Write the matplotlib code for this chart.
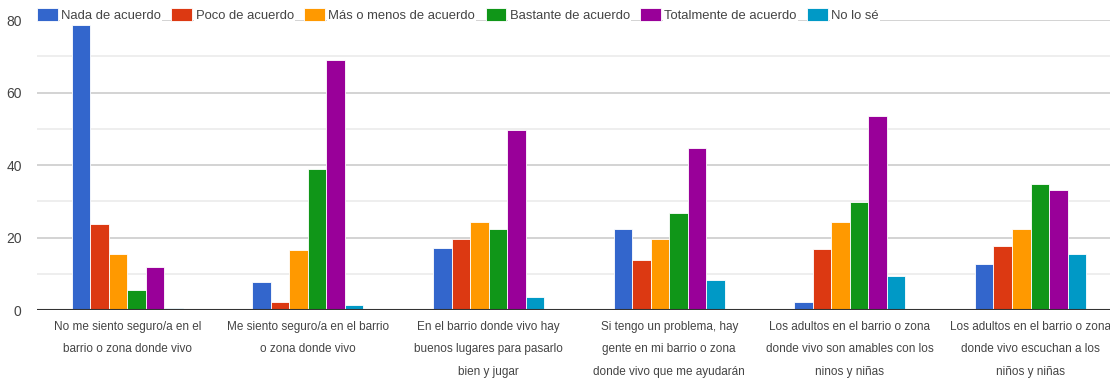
import matplotlib
matplotlib.use('Agg')
import matplotlib.pyplot as plt
import numpy as np

# survey answers per statement
categories = [
    'No me siento seguro/a en el\nbarrio o zona donde vivo',
    'Me siento seguro/a en el barrio\no zona donde vivo',
    'En el barrio donde vivo hay\nbuenos lugares para pasarlo\nbien y jugar',
    'Si tengo un problema, hay\ngente en mi barrio o zona\ndonde vivo que me ayudarán',
    'Los adultos en el barrio o zona\ndonde vivo son amables con los\nninos y niñas',
    'Los adultos en el barrio o zona\ndonde vivo escuchan a los\nniños y niñas',
]
series_names = ['Nada de acuerdo', 'Poco de acuerdo', 'Más o menos de acuerdo',
                'Bastante de acuerdo', 'Totalmente de acuerdo', 'No lo sé']
nada = [78.7, 7.7, 17, 22.5, 2.1, 12.6]
poco = [23.7, 2.2, 19.7, 13.7, 16.8, 17.8]
mas_menos = [15.6, 16.7, 24.2, 19.7, 24.2, 22.5]
bastante = [5.6, 38.9, 22.5, 26.7, 29.7, 34.9]
totalmente = [12, 69, 49.7, 44.8, 53.7, 33]
no_se = [0.6, 1.3, 3.5, 8.4, 9.5, 15.6]
yticks = [0, 20, 40, 60, 80]

colours = ['#3366cc', '#dc3912', '#ff9900', '#109618', '#990099', '#0099c6']
values = [nada, poco, mas_menos, bastante, totalmente, no_se]

plt.rcParams['font.family'] = ['Liberation Sans', 'DejaVu Sans']

fig = plt.figure(figsize=(11.1, 3.89), dpi=100)
ax = fig.add_axes([0.0333, 0.203, 0.9667, 0.745])

x = np.arange(len(categories))
slot = 0.1025
for i, (name, vals) in enumerate(zip(series_names, values)):
    ax.bar(x + (i - 2.5) * slot, vals, width=slot, color=colours[i],
           edgecolor='white', linewidth=0.6, label=name, zorder=3)

# gridlines: major every 20, lighter every 10
for v in range(10, 81, 10):
    ax.axhline(v, color='#cccccc' if v % 20 == 0 else '#ebebeb', lw=1.2, zorder=1)
ax.axhline(0, color='#333333', lw=1.5, zorder=4)

ax.set_xlim(-0.5, 5.44)
ax.set_ylim(0, 80)
ax.set_yticks(yticks)
ax.set_xticks(x)
ax.set_xticklabels(categories, linespacing=2.15)
ax.tick_params(axis='both', length=0, labelcolor='#444444')
ax.tick_params(axis='y', pad=11, labelsize=10)
ax.tick_params(axis='x', pad=8, labelsize=8.5)
for s in ax.spines.values():
    s.set_visible(False)

leg = ax.legend(ncol=6, loc='center left', bbox_to_anchor=(0.0, 1.017),
                frameon=False, fontsize=9.4, handlelength=1.6, handleheight=1.1,
                handletextpad=0.25, columnspacing=0.8, borderpad=0, borderaxespad=0)
for t in leg.get_texts():
    t.set_color('#444444')
    t.set_bbox(dict(facecolor='white', edgecolor='none', pad=1))

fig.savefig('out.png', dpi=100)
